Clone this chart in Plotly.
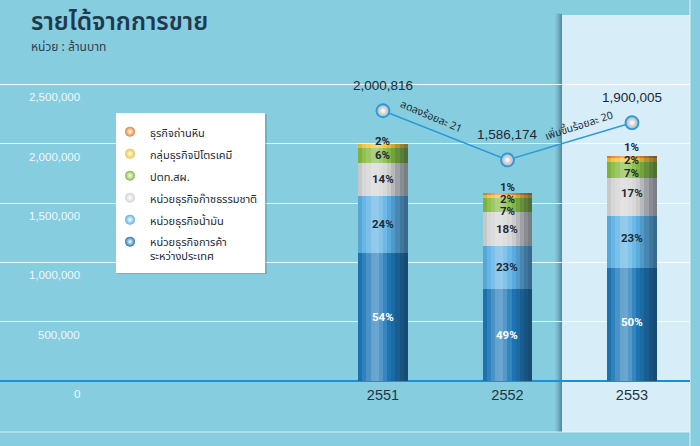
import plotly.graph_objects as go

years = ["2551", "2552", "2553"]
totals = [2000816, 1586174, 1900005]

series_names = [
    "หน่วยธุรกิจการค้า<br>ระหว่างประเทศ",
    "หน่วยธุรกิจน้ำมัน",
    "หน่วยธุรกิจก๊าซธรรมชาติ",
    "ปตท.สผ.",
    "กลุ่มธุรกิจปิโตรเคมี",
    "ธุรกิจถ่านหิน",
]
pct_trade = [54, 49, 50]
pct_oil = [24, 23, 23]
pct_gas = [14, 18, 17]
pct_pttep = [6, 7, 7]
pct_petchem = [2, 2, 2]
pct_coal = [0, 1, 1]

y_ticks = [0, 500000, 1000000, 1500000, 2000000, 2500000]
y_tick_labels = ["0", "500,000", "1,000,000", "1,500,000", "2,000,000", "2,500,000"]

title_text = "รายได้จากการขาย"
unit_text = "หน่วย : ล้านบาท"

series_pcts = [pct_trade, pct_oil, pct_gas, pct_pttep, pct_petchem, pct_coal]
series_colors = ["#1f78b8", "#5cb0e4", "#d4d4d4", "#86bb42", "#f2c13a", "#e5832f"]
text_colors = ["#ffffff", "#1c2a36", "#1c2a36", "#1c2a36", "#1c2a36", "#1c2a36"]
# label nudges in pixels per series (style only, keeps small labels apart)
label_nudges = [
    [0, 0, 3],
    [0, 0, 4],
    [0, 0, 4],
    [0, -6, -3],
    [5, -2, 0],
    [0, 7, 10],
]

BG = "#87cde0"
COL_BG = "#d7eef9"
LINE_BLUE = "#2a9ad8"
DARK = "#1c2a36"
THAI_FONT = "Noto Sans Thai, Tahoma, Loma, Garuda, DejaVu Sans, sans-serif"
NUM_FONT = "Liberation Sans, Arial, sans-serif"

X_RANGE = [-3.076, 2.466]
Y_RANGE = [0, 3085000]
Y2_OFFSET = 277000
Y2_RANGE = [Y_RANGE[0] - Y2_OFFSET, Y_RANGE[1] - Y2_OFFSET]
BAR_W = 0.4

fig = go.Figure()

# stacked segments
for name, pcts, color in zip(series_names, series_pcts, series_colors):
    vals = [t * p / 100.0 for t, p in zip(totals, pcts)]
    fig.add_trace(go.Bar(
        x=years, y=vals, marker=dict(color=color, line=dict(width=0)),
        width=BAR_W, showlegend=False, hoverinfo="skip", name=name,
    ))

# cylinder shading overlays (strips over the totals)
shade_profile = [-0.06, 0.08, 0.2, 0.32, 0.34, 0.24, 0.1, -0.04, -0.15, -0.27, -0.38, -0.46]
n_strips = len(shade_profile)
strip_w = BAR_W / n_strips
for i, s in enumerate(shade_profile):
    col = f"rgba(255,255,255,{s:.2f})" if s >= 0 else f"rgba(15,25,40,{-s:.2f})"
    fig.add_trace(go.Bar(
        x=years, y=totals, base=0, offset=-BAR_W / 2 + i * strip_w, width=strip_w,
        marker=dict(color=col, line=dict(width=0)),
        xaxis="x%d" % (i + 2), yaxis="y", showlegend=False, hoverinfo="skip",
    ))

annotations = []
# percentage labels at segment middles
cum = [0.0, 0.0, 0.0]
for k, (pcts, tcol, nudges) in enumerate(zip(series_pcts, text_colors, label_nudges)):
    vals = [t * p / 100.0 for t, p in zip(totals, pcts)]
    for i, (c, v, p, n) in enumerate(zip(cum, vals, pcts, nudges)):
        if p <= 0:
            continue
        annotations.append(dict(
            x=i, y=c + v / 2.0, xref="x", yref="y", text="%d%%" % p, showarrow=False,
            yshift=n, font=dict(family="Roboto, sans-serif", size=11.5, color=tcol, weight="bold"),
        ))
    cum = [c + v for c, v in zip(cum, vals)]

# total line on secondary axis
fig.add_trace(go.Scatter(
    x=years, y=totals, yaxis="y2", mode="lines+markers",
    line=dict(color=LINE_BLUE, width=1.5),
    marker=dict(size=13, color="#a9b0b5", line=dict(color=LINE_BLUE, width=1.8),
                gradient=dict(type="radial", color="#ffffff")),
    showlegend=False, hoverinfo="skip",
))

# legend entries (top to bottom)
for name, color in reversed(list(zip(series_names, series_colors))):
    fig.add_trace(go.Scatter(
        x=[None], y=[None], mode="markers", name=name, legendgroup=name,
        marker=dict(size=10, color=color, symbol="circle",
                    gradient=dict(type="radial", color="#ffffff"), line=dict(width=0)),
    ))

# y tick labels (below gridlines)
for v, lab in zip(y_ticks, y_tick_labels):
    annotations.append(dict(
        x=82 / 690, xref="paper", xanchor="right", y=v, yref="y", yanchor="top",
        yshift=-5, text=lab, showarrow=False,
        font=dict(family=NUM_FONT, size=11.5, color="#eef8fc"),
    ))
# total labels
for i, t in enumerate(totals):
    annotations.append(dict(
        x=i, y=t, xref="x", yref="y2", text=f"{t:,}", showarrow=False, yshift=25,
        font=dict(family=NUM_FONT, size=13.5, color=DARK),
    ))
# change labels
ch1 = round(abs(totals[1] - totals[0]) / totals[0] * 100)
ch2 = round(abs(totals[2] - totals[1]) / totals[1] * 100)
annotations.append(dict(
    x=0.5, y=(totals[0] + totals[1]) / 2, xref="x", yref="y2", text=f"ลดลงร้อยละ {ch1}",
    showarrow=False, textangle=23, xshift=-14, yshift=18,
    font=dict(family=THAI_FONT, size=10.5, color=DARK),
))
annotations.append(dict(
    x=1.5, y=(totals[1] + totals[2]) / 2, xref="x", yref="y2", text=f"เพิ่มขึ้นร้อยละ {ch2}",
    showarrow=False, textangle=-18, xshift=10, yshift=15,
    font=dict(family=THAI_FONT, size=10.5, color=DARK),
))

def py(pix):
    return (381 - pix) / 366.0

# title
annotations.append(dict(
    x=29 / 690, xref="paper", xanchor="left", y=py(22), yref="paper",
    yanchor="middle", text=title_text, showarrow=False,
    font=dict(family=THAI_FONT, size=24.5, color="#1f3a4e", weight=600),
))
annotations.append(dict(
    x=29 / 690, xref="paper", xanchor="left", y=py(47), yref="paper",
    yanchor="middle", text=unit_text, showarrow=False,
    font=dict(family=THAI_FONT, size=12, color="#2c3e4c"),
))

col_x0 = (562 - 383) / 124.5
shapes = []
# shadow of highlighted column
for i, a in enumerate([0.05, 0.08, 0.12, 0.16, 0.22]):
    dx = (7 - i * 1.4) / 124.5
    shapes.append(dict(type="rect", xref="x", yref="paper", x0=col_x0 - dx, x1=col_x0,
                       y0=py(432), y1=py(15 - (5 - i) * 0.4), fillcolor=f"rgba(40,80,100,{a})",
                       line=dict(width=0), layer="below"))
shapes.append(dict(type="rect", xref="x", yref="paper", x0=col_x0, x1=X_RANGE[1],
                   y0=py(432), y1=py(15), fillcolor=COL_BG, line=dict(width=0), layer="below"))
shapes.append(dict(type="line", xref="paper", yref="paper", x0=0, x1=1, y0=py(432), y1=py(432),
                   line=dict(color="rgba(235,248,252,0.8)", width=1), layer="below"))
shapes.append(dict(type="line", xref="paper", yref="paper", x0=1, x1=1, y0=py(446), y1=py(0),
                   line=dict(color="rgba(235,248,252,0.9)", width=1), layer="below"))
# legend box
shapes.append(dict(type="rect", xref="paper", yref="paper", x0=117 / 690, x1=267 / 690,
                   y0=py(274), y1=py(114), fillcolor="rgba(60,90,110,0.25)",
                   line=dict(width=0), layer="above"))
shapes.append(dict(type="rect", xref="paper", yref="paper", x0=116 / 690, x1=265 / 690,
                   y0=py(273), y1=py(113), fillcolor="#ffffff",
                   line=dict(width=0), layer="above"))

layout_axes = {}
for i in range(n_strips):
    layout_axes["xaxis%d" % (i + 2)] = dict(
        overlaying="x", type="category", range=X_RANGE, visible=False,
        categoryorder="array", categoryarray=years,
    )

fig.update_layout(
    width=700, height=446,
    margin=dict(l=0, r=10, t=15, b=65),
    paper_bgcolor=BG, plot_bgcolor="rgba(0,0,0,0)",
    barmode="stack", bargap=0,
    xaxis=dict(type="category", categoryorder="array", categoryarray=years,
               range=X_RANGE, showgrid=False, zeroline=False, showline=False,
               ticks="", ticklabelstandoff=3,
               tickfont=dict(family=NUM_FONT, size=14.5, color="#243442")),
    yaxis=dict(range=Y_RANGE, tickvals=y_ticks, showticklabels=False,
               showgrid=True, gridcolor="rgba(255,255,255,0.85)", gridwidth=1,
               zeroline=True, zerolinecolor="#1a8fda", zerolinewidth=2, showline=False),
    yaxis2=dict(range=Y2_RANGE, overlaying="y", visible=False),
    legend=dict(x=110 / 690, xanchor="left", y=py(118), yanchor="top",
                bgcolor="rgba(0,0,0,0)", borderwidth=0, traceorder="grouped",
                tracegroupgap=3, valign="top", itemwidth=30,
                font=dict(family=THAI_FONT, size=11, color="#1c2a36")),
    annotations=annotations, shapes=shapes,
    showlegend=True,
    **layout_axes,
)

fig.write_html("out.html", config={"displayModeBar": False},
               post_script="document.body.style.margin='0';document.body.style.overflow='hidden';")
